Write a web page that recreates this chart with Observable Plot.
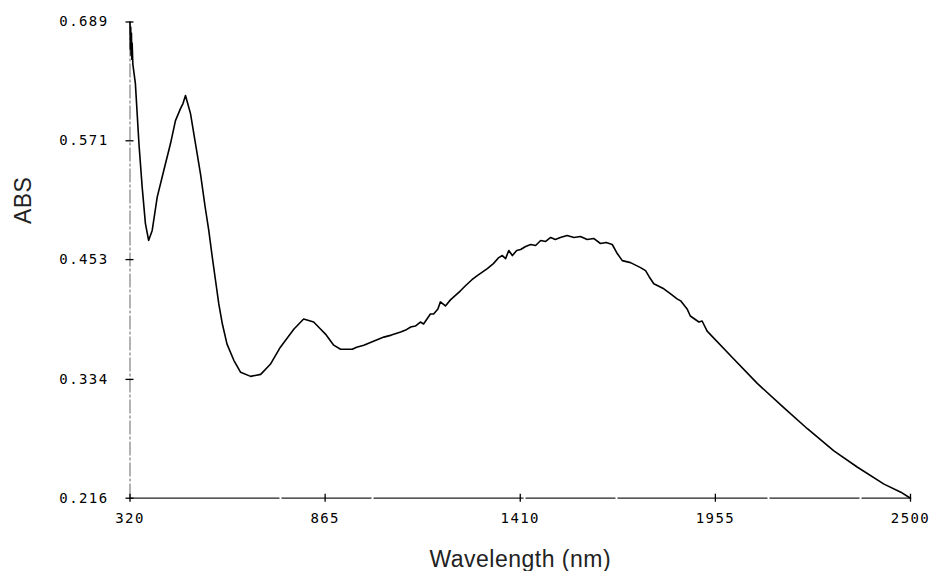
<!DOCTYPE html>
<html>
<head>
<meta charset="utf-8">
<script src="https://cdn.jsdelivr.net/npm/d3@7"></script>
<script src="https://cdn.jsdelivr.net/npm/@observablehq/plot@0.6"></script>
<style>
  html, body { margin: 0; padding: 0; background: #fff; }
  #chart { width: 935px; height: 571px; }
</style>
</head>
<body>
<div id="chart"></div>
<script>
// Wavelength (nm)
const wavelength = [320, 321, 322, 323, 324, 325, 326, 328, 335, 345, 354, 363, 372, 382, 396, 414, 433, 447, 461, 468, 475, 489, 503, 517, 530, 540, 550, 559, 568, 578, 591, 610, 629, 657, 685, 712, 740, 778, 805, 833, 852,
  866, 889, 908, 941, 953, 973, 1000, 1029, 1050, 1076, 1090, 1104, 1117, 1131, 1140, 1159, 1168, 1180,
  1187, 1201, 1215, 1243, 1257, 1275, 1290, 1318, 1335, 1350, 1360, 1369, 1378, 1388, 1400, 1411, 1425, 1439, 1453, 1467, 1481, 1495, 1508, 1522, 1541, 1560, 1578, 1597, 1615, 1634, 1650, 1667,
  1681, 1695, 1718, 1746, 1760, 1770, 1783, 1811, 1830, 1848, 1858, 1876, 1885, 1909, 1918, 1932, 2007, 2072, 2146, 2212, 2286, 2351, 2426, 2473, 2500];
// Absorbance
const absorbance = [0.689, 0.662, 0.684, 0.656, 0.678, 0.652, 0.668, 0.647, 0.628, 0.568, 0.525, 0.489, 0.472, 0.482, 0.515, 0.541, 0.568, 0.591, 0.603, 0.608, 0.616, 0.598, 0.568, 0.538, 0.505, 0.482, 0.455, 0.432, 0.409, 0.389, 0.369, 0.353, 0.341, 0.337, 0.339, 0.349, 0.366, 0.384, 0.394, 0.391, 0.384,
  0.379, 0.368, 0.364, 0.364, 0.366, 0.368, 0.372, 0.376, 0.378, 0.381, 0.383, 0.386, 0.387, 0.391, 0.389, 0.399, 0.399, 0.404,
  0.411, 0.407, 0.413, 0.422, 0.427, 0.433, 0.437, 0.444, 0.449, 0.455, 0.457, 0.454, 0.462, 0.457, 0.462, 0.463, 0.466, 0.468, 0.467, 0.472, 0.471, 0.475, 0.473, 0.475, 0.477, 0.475, 0.476, 0.473, 0.474, 0.469, 0.470, 0.468,
  0.459, 0.452, 0.450, 0.445, 0.442, 0.436, 0.429, 0.424, 0.419, 0.414, 0.412, 0.404, 0.397, 0.391, 0.392, 0.382, 0.354, 0.330, 0.306, 0.285, 0.263, 0.247, 0.230, 0.222, 0.216];

const xTicks = [320, 865, 1410, 1955, 2500];
const yTicks = [0.216, 0.334, 0.453, 0.571, 0.689];
const yTickLabels = ["0.216", "0.334", "0.453", "0.571", "0.689"];
const xTitle = "Wavelength (nm)";
const yTitle = "ABS";

const spectrum = wavelength.map((w, i) => ({w, a: absorbance[i]}));
const tickFont = "'DejaVu Sans Mono', monospace";

const chart = Plot.plot({
  width: 935,
  height: 571,
  marginLeft: 129.5,
  marginRight: 25,
  marginTop: 21.5,
  marginBottom: 73.3,
  style: {background: "#fff", color: "#000", overflow: "visible"},
  x: {domain: [320, 2500]},
  y: {domain: [0.216, 0.689]},
  marks: [
    Plot.ruleX([xTicks[0]], {stroke: "#666", strokeWidth: 1, strokeDasharray: "14,2,3,2"}),
    Plot.ruleY([yTicks[0]], {stroke: "#222", strokeWidth: 1.3, strokeDasharray: "150,2,90,2"}),
    Plot.axisY({
      ticks: yTicks,
      tickSize: 8,
      dx: 4,
      tickPadding: 17.5,
      tickFormat: (d, i) => yTickLabels[i],
      fontFamily: tickFont,
      fontSize: 14,
      label: null,
      stroke: "#000",
      strokeWidth: 1.3
    }),
    Plot.axisX({
      ticks: xTicks,
      tickSize: 8,
      dy: -4,
      tickPadding: 11,
      tickFormat: d => String(d),
      fontFamily: tickFont,
      fontSize: 14,
      label: null,
      stroke: "#000",
      strokeWidth: 1.3
    }),
    Plot.line(spectrum, {x: "w", y: "a", stroke: "#000", strokeWidth: 1.6, curve: "linear"}),
    Plot.text([xTitle], {frameAnchor: "bottom", dy: 69, lineAnchor: "bottom", fontSize: 23,
      fontFamily: "'Liberation Sans', Arial, sans-serif", fill: "#222"}),
    Plot.text([yTitle], {frameAnchor: "left", dx: -106, dy: -36, rotate: -90, fontSize: 23,
      fontFamily: "'Liberation Sans', Arial, sans-serif", fill: "#222"})
  ]
});

// letter spacing on tick labels to mimic the plotter font
d3.select(chart).selectAll("g[aria-label='y-axis tick label'] text, g[aria-label='x-axis tick label'] text")
  .style("letter-spacing", "1.4px");
d3.select(chart).selectAll("g[aria-label='text'] text").style("letter-spacing", "0.5px");

document.getElementById("chart").appendChild(chart);
</script>
</body>
</html>
